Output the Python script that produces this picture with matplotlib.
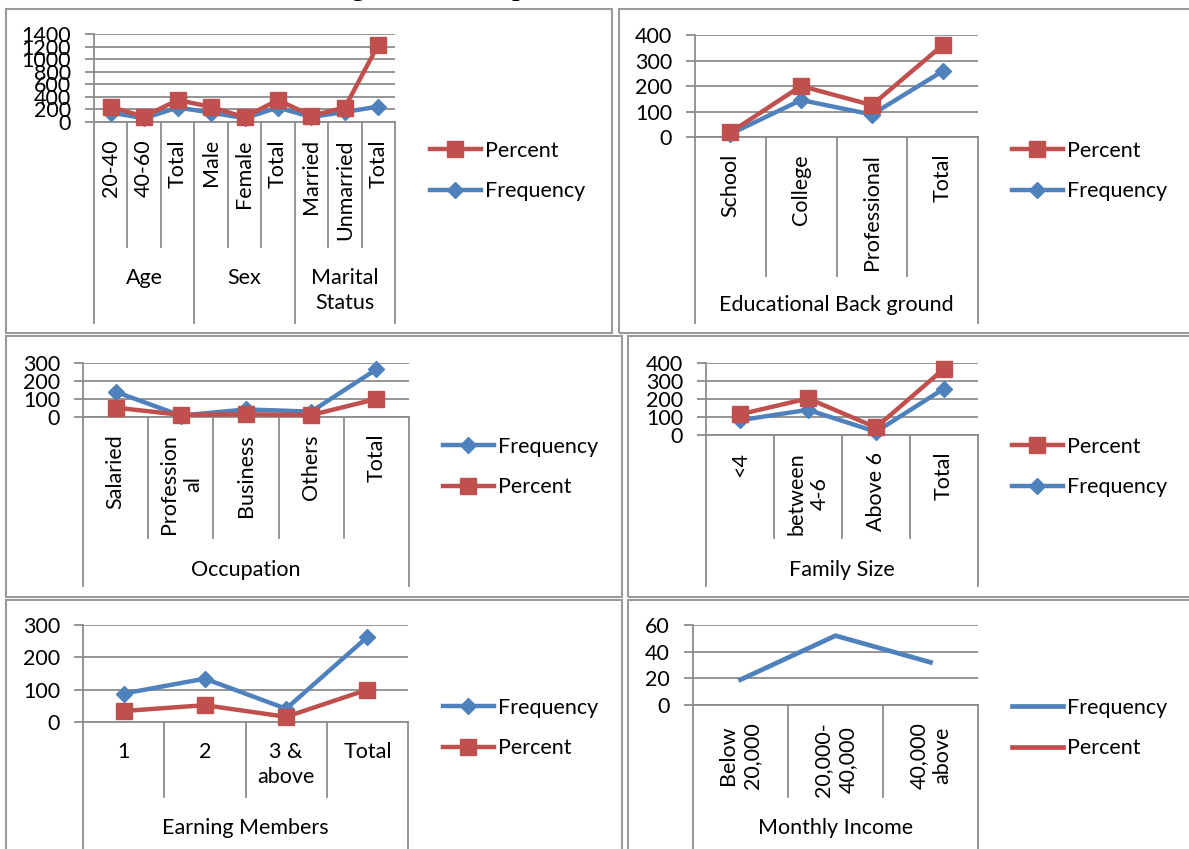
import matplotlib.pyplot as plt
from matplotlib.lines import Line2D
from matplotlib.patches import Rectangle
from matplotlib.transforms import blended_transform_factory

W, H = 1189, 849
plt.rcParams['font.family'] = ['Lato', 'DejaVu Sans']

BLUE = '#4F81BD'
RED = '#C0504D'
GRID = '#8C8C8C'
FS = 15.5

# respondent profile: age / sex / marital status
demo_cats = ['20-40', '40-60', 'Total', 'Male', 'Female', 'Total',
             'Married', 'Unmarried', 'Total']
demo_groups = [('Age', 3), ('Sex', 3), ('Marital\nStatus', 3)]
demo_freq = [150, 60, 230, 150, 60, 230, 80, 160, 245]
demo_pct = [240, 85, 350, 240, 75, 350, 100, 230, 1230]

# educational background
edu_cats = ['School', 'College', 'Professional', 'Total']
edu_freq = [12, 145, 88, 258]
edu_pct = [18, 200, 125, 360]

# occupation
occ_cats = ['Salaried', 'Profession\nal', 'Business', 'Others', 'Total']
occ_freq = [140, 8, 42, 30, 265]
occ_pct = [52, 12, 15, 11, 100]

# family size
fam_cats = ['<4', 'between\n4-6', 'Above 6', 'Total']
fam_freq = [82, 140, 18, 258]
fam_pct = [115, 203, 42, 368]

# earning members
earn_cats = ['1', '2', '3 &\nabove', 'Total']
earn_freq = [88, 134, 41, 263]
earn_pct = [34, 52, 16, 100]

# monthly income
inc_cats = ['Below\n20,000', '20,000-\n40,000', '40,000\nabove']
inc_freq = [19, 52, 32]

fig = plt.figure(figsize=(W / 100, H / 100), dpi=100)


def fy(y):
    return 1 - y / H


def px_rect(l, t, r, b):
    return [l / W, 1 - b / H, (r - l) / W, (b - t) / H]


# panel frames
for l, t, r, b in [(6, 9, 612, 333), (619, 9, 1192, 333),
                   (6, 336, 622, 597), (628, 336, 1192, 597),
                   (6, 600, 622, 852), (628, 600, 1192, 852)]:
    fig.add_artist(Rectangle((l / W, fy(b)), (r - l) / W, (b - t) / H,
                             transform=fig.transFigure, fill=False,
                             edgecolor='#9A9A9A', lw=1.5))

# heading, mostly above the top edge of the page
fig.text(585 / W, fy(-4), 'Diagrammatic Representation of the above table',
         family='Liberation Serif', weight='bold', fontsize=19,
         ha='center', va='baseline')


def panel(box, ymax, ystep, cats, groups, freq, pct, legend_xy, order,
          inner_bottom, outer_bottom, group_top, rotate=True, label_gap=17,
          pct_marks=True):
    l, t, r, b = box
    ax = fig.add_axes(px_rect(l, t, r, b))
    n = len(cats)
    x = list(range(n))
    ax.set_facecolor('none')

    if pct_marks:
        fl, = ax.plot(x, freq, color=BLUE, lw=3.2, marker='D', ms=8,
                      clip_on=False, zorder=3)
        pl, = ax.plot(x, pct, color=RED, lw=3.2, marker='s', ms=12,
                      clip_on=False, zorder=4)
    else:
        fl, = ax.plot(x, freq, color=BLUE, lw=3.4, clip_on=False, zorder=3)
        pl = Line2D([], [], color=RED, lw=3.4)

    ax.set_xlim(-0.5, n - 0.5)
    ax.set_ylim(0, ymax)
    ax.set_yticks(range(0, ymax + 1, ystep))
    ax.set_xticks([])
    ax.yaxis.grid(True, color=GRID, lw=1.3)
    ax.set_axisbelow(True)
    for s in ['top', 'right']:
        ax.spines[s].set_visible(False)
    for s in ['left', 'bottom']:
        ax.spines[s].set_color(GRID)
        ax.spines[s].set_linewidth(1.3)
    ax.tick_params(axis='y', length=6.5, width=1.3, color=GRID, pad=10,
                   labelsize=FS)

    trans = blended_transform_factory(ax.transData, fig.transFigure)

    # category boundaries under the axis
    outer = [-0.5]
    pos = -0.5
    for _, size in groups:
        pos += size
        outer.append(pos)
    for k in range(n + 1):
        edge = k - 0.5
        bottom = outer_bottom if edge in outer else inner_bottom
        ax.add_line(Line2D([edge, edge], [fy(b), fy(bottom)], transform=trans,
                           color=GRID, lw=1.3, clip_on=False))

    for i, c in enumerate(cats):
        if rotate:
            ax.text(i, fy(b + label_gap), c, transform=trans, rotation=90,
                    ha='center', va='top', fontsize=FS,
                    multialignment='center', linespacing=1.25)
        else:
            ax.text(i, fy(b + label_gap), c, transform=trans,
                    ha='center', va='top', fontsize=FS,
                    multialignment='center', linespacing=1.3)

    start = -0.5
    for name, size in groups:
        ax.text(start + size / 2, fy(group_top), name, transform=trans,
                ha='center', va='top', fontsize=FS, linespacing=1.3)
        start += size

    lines = {'Frequency': fl, 'Percent': pl}
    lx, ly = legend_xy
    ax.legend([lines[k] for k in order], order, loc='center left',
              bbox_to_anchor=(lx / W, fy(ly)), bbox_transform=fig.transFigure,
              frameon=False, fontsize=FS, handlelength=2.35,
              handletextpad=0.2, labelspacing=0.95, borderpad=0,
              borderaxespad=0)
    return ax


panel((94, 34, 395, 122), 1400, 200, demo_cats, demo_groups,
      demo_freq, demo_pct, (430, 171), ['Percent', 'Frequency'],
      inner_bottom=247, outer_bottom=323, group_top=268)

panel((695, 35, 978, 137), 400, 100, edu_cats,
      [('Educational Back ground', 4)], edu_freq, edu_pct,
      (1012, 171), ['Percent', 'Frequency'],
      inner_bottom=276, outer_bottom=323, group_top=295)

panel((83, 363, 409, 417), 300, 100, occ_cats, [('Occupation', 5)],
      occ_freq, occ_pct, (443, 467), ['Frequency', 'Percent'],
      inner_bottom=538, outer_bottom=586, group_top=560)

panel((706, 363, 978, 435), 400, 100, fam_cats, [('Family Size', 4)],
      fam_freq, fam_pct, (1012, 467), ['Percent', 'Frequency'],
      inner_bottom=538, outer_bottom=586, group_top=560)

panel((83, 625, 408, 722), 300, 100, earn_cats, [('Earning Members', 4)],
      earn_freq, earn_pct, (443, 728), ['Frequency', 'Percent'],
      inner_bottom=797, outer_bottom=849, group_top=818, rotate=False,
      label_gap=20)

panel((693, 625, 978, 705), 60, 20, inc_cats, [('Monthly Income', 3)],
      inc_freq, None, (1012, 728), ['Frequency', 'Percent'],
      inner_bottom=797, outer_bottom=849, group_top=818, pct_marks=False)

fig.savefig('out.png', dpi=100)
